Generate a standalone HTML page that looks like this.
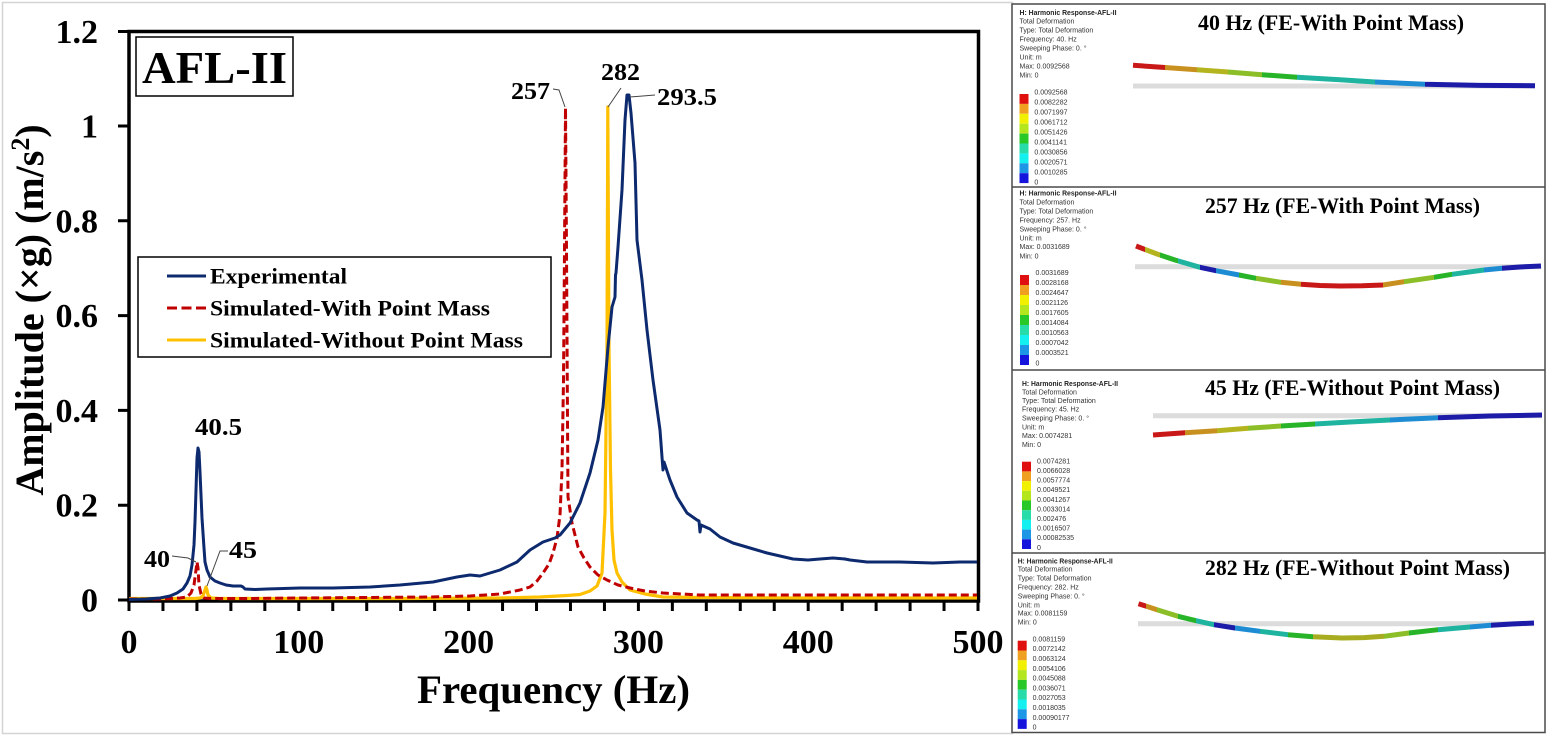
<!DOCTYPE html>
<html><head><meta charset="utf-8"><style>
html,body{margin:0;padding:0;background:#fff;}
svg{display:block;}
.s{font-family:"Liberation Serif","DejaVu Serif",serif;font-weight:bold;fill:#000;}
.i{font-family:"Liberation Sans","DejaVu Sans",sans-serif;font-size:7px;fill:#333;}
.ib{font-family:"Liberation Sans","DejaVu Sans",sans-serif;font-size:7px;font-weight:bold;fill:#222;}
</style></head><body>
<svg width="1547" height="738" viewBox="0 0 1547 738" xmlns="http://www.w3.org/2000/svg">
<defs>
<linearGradient id="g1" gradientUnits="userSpaceOnUse" x1="1000" y1="0" x2="2000" y2="0">
<stop offset=".133" stop-color="#c81818"/><stop offset=".165" stop-color="#c81818"/>
<stop offset=".165" stop-color="#c8901e"/><stop offset=".197" stop-color="#c8901e"/>
<stop offset=".197" stop-color="#b4b41e"/><stop offset=".228" stop-color="#b4b41e"/>
<stop offset=".228" stop-color="#8cbe28"/><stop offset=".262" stop-color="#8cbe28"/>
<stop offset=".262" stop-color="#28b428"/><stop offset=".297" stop-color="#28b428"/>
<stop offset=".297" stop-color="#1eb4a0"/><stop offset=".375" stop-color="#1eb4a0"/>
<stop offset=".375" stop-color="#1e8cd2"/><stop offset=".425" stop-color="#1e8cd2"/>
<stop offset=".425" stop-color="#1c1ca8"/><stop offset=".6" stop-color="#1c1ca8"/>
</linearGradient>
<linearGradient id="g2" gradientUnits="userSpaceOnUse" x1="1000" y1="0" x2="2000" y2="0">
<stop offset=".136" stop-color="#c81818"/><stop offset=".145" stop-color="#c81818"/>
<stop offset=".145" stop-color="#b4b41e"/><stop offset=".160" stop-color="#b4b41e"/>
<stop offset=".160" stop-color="#28b428"/><stop offset=".178" stop-color="#28b428"/>
<stop offset=".178" stop-color="#1eb4a0"/><stop offset=".200" stop-color="#1eb4a0"/>
<stop offset=".200" stop-color="#1c1ca8"/><stop offset=".216" stop-color="#1c1ca8"/>
<stop offset=".216" stop-color="#1e8cd2"/><stop offset=".239" stop-color="#1e8cd2"/>
<stop offset=".239" stop-color="#28b428"/><stop offset=".256" stop-color="#28b428"/>
<stop offset=".256" stop-color="#8cbe28"/><stop offset=".281" stop-color="#8cbe28"/>
<stop offset=".281" stop-color="#c8901e"/><stop offset=".301" stop-color="#c8901e"/>
<stop offset=".301" stop-color="#c81818"/><stop offset=".383" stop-color="#c81818"/>
<stop offset=".383" stop-color="#c8901e"/><stop offset=".404" stop-color="#c8901e"/>
<stop offset=".404" stop-color="#8cbe28"/><stop offset=".434" stop-color="#8cbe28"/>
<stop offset=".434" stop-color="#28b428"/><stop offset=".452" stop-color="#28b428"/>
<stop offset=".452" stop-color="#1eb4a0"/><stop offset=".484" stop-color="#1eb4a0"/>
<stop offset=".484" stop-color="#1e8cd2"/><stop offset=".502" stop-color="#1e8cd2"/>
<stop offset=".502" stop-color="#1c1ca8"/><stop offset=".6" stop-color="#1c1ca8"/>
</linearGradient>
<linearGradient id="g3" gradientUnits="userSpaceOnUse" x1="1000" y1="0" x2="2000" y2="0">
<stop offset=".153" stop-color="#c81818"/><stop offset=".185" stop-color="#c81818"/>
<stop offset=".185" stop-color="#c8901e"/><stop offset=".217" stop-color="#c8901e"/>
<stop offset=".217" stop-color="#b4b41e"/><stop offset=".248" stop-color="#b4b41e"/>
<stop offset=".248" stop-color="#8cbe28"/><stop offset=".281" stop-color="#8cbe28"/>
<stop offset=".281" stop-color="#28b428"/><stop offset=".315" stop-color="#28b428"/>
<stop offset=".315" stop-color="#1eb4a0"/><stop offset=".390" stop-color="#1eb4a0"/>
<stop offset=".390" stop-color="#1e8cd2"/><stop offset=".438" stop-color="#1e8cd2"/>
<stop offset=".438" stop-color="#1c1ca8"/><stop offset=".6" stop-color="#1c1ca8"/>
</linearGradient>
<linearGradient id="g4" gradientUnits="userSpaceOnUse" x1="1000" y1="0" x2="2000" y2="0">
<stop offset=".138" stop-color="#c81818"/><stop offset=".146" stop-color="#c81818"/>
<stop offset=".146" stop-color="#c8901e"/><stop offset=".157" stop-color="#c8901e"/>
<stop offset=".157" stop-color="#8cbe28"/><stop offset=".178" stop-color="#8cbe28"/>
<stop offset=".178" stop-color="#28b428"/><stop offset=".196" stop-color="#28b428"/>
<stop offset=".196" stop-color="#1eb4a0"/><stop offset=".214" stop-color="#1eb4a0"/>
<stop offset=".214" stop-color="#1c1ca8"/><stop offset=".235" stop-color="#1c1ca8"/>
<stop offset=".235" stop-color="#1e8cd2"/><stop offset=".260" stop-color="#1e8cd2"/>
<stop offset=".260" stop-color="#1eb4a0"/><stop offset=".288" stop-color="#1eb4a0"/>
<stop offset=".288" stop-color="#28b428"/><stop offset=".313" stop-color="#28b428"/>
<stop offset=".313" stop-color="#a8ac20"/><stop offset=".384" stop-color="#a8ac20"/>
<stop offset=".384" stop-color="#8cbe28"/><stop offset=".409" stop-color="#8cbe28"/>
<stop offset=".409" stop-color="#28b428"/><stop offset=".438" stop-color="#28b428"/>
<stop offset=".438" stop-color="#1eb4a0"/><stop offset=".470" stop-color="#1eb4a0"/>
<stop offset=".470" stop-color="#1e8cd2"/><stop offset=".491" stop-color="#1e8cd2"/>
<stop offset=".491" stop-color="#1c1ca8"/><stop offset=".6" stop-color="#1c1ca8"/>
</linearGradient>
</defs>

<!-- left frame -->
<rect x="2.5" y="2.5" width="1010" height="731" fill="none" stroke="#d4d4d4" stroke-width="1.5"/>

<!-- axes -->
<rect x="129" y="31.5" width="849.5" height="569.5" fill="none" stroke="#000" stroke-width="3.5"/>
<path d="M118,600H129M118,505.2H129M118,410.4H129M118,315.6H129M118,220.8H129M118,126H129M118,31.5H129" stroke="#000" stroke-width="3"/>
<path d="M129,601V611M162.96,601V611M196.92,601V611M230.88,601V611M264.84,601V611M298.8,601V611M332.76,601V611M366.72,601V611M400.68,601V611M434.64,601V611M468.6,601V611M502.56,601V611M536.52,601V611M570.48,601V611M604.44,601V611M638.4,601V611M672.36,601V611M706.32,601V611M740.28,601V611M774.24,601V611M808.2,601V611M842.16,601V611M876.12,601V611M910.08,601V611M944.04,601V611M978,601V611" stroke="#000" stroke-width="3"/>

<!-- y tick labels -->
<g class="s" font-size="34" text-anchor="end">
<text x="98" y="43">1.2</text>
<text x="98" y="137.5">1</text>
<text x="98" y="232.3">0.8</text>
<text x="98" y="327.1">0.6</text>
<text x="98" y="421.9">0.4</text>
<text x="98" y="516.7">0.2</text>
<text x="98" y="611.5">0</text>
</g>
<!-- x tick labels -->
<g class="s" font-size="34" text-anchor="middle">
<text x="129" y="653">0</text>
<text x="298.8" y="653">100</text>
<text x="468.6" y="653">200</text>
<text x="638.4" y="653">300</text>
<text x="808.2" y="653">400</text>
<text x="978" y="653">500</text>
</g>
<text class="s" x="553.5" y="703" font-size="40" text-anchor="middle" textLength="273" lengthAdjust="spacingAndGlyphs">Frequency (Hz)</text>
<text class="s" font-size="40" text-anchor="middle" transform="translate(43,310) rotate(-90)">Amplitude (×g) (m/s<tspan font-size="26" dy="-14">2</tspan><tspan dy="14">)</tspan></text>

<!-- AFL-II box -->
<rect x="136" y="37" width="157" height="59" fill="#fff" stroke="#000" stroke-width="1.5"/>
<text class="s" x="142" y="83" font-size="46" textLength="145" lengthAdjust="spacingAndGlyphs">AFL-II</text>

<!-- legend -->
<rect x="138" y="257" width="413" height="100" fill="#fff" stroke="#000" stroke-width="1.5"/>
<line x1="167" y1="276" x2="206" y2="276" stroke="#0d2a6e" stroke-width="3"/>
<line x1="167" y1="308" x2="206" y2="308" stroke="#c00000" stroke-width="3" stroke-dasharray="10,4.5"/>
<line x1="167" y1="340" x2="206" y2="340" stroke="#ffc000" stroke-width="3"/>
<g class="s" font-size="22">
<text x="210" y="283.5" textLength="137" lengthAdjust="spacingAndGlyphs">Experimental</text>
<text x="210" y="315.5" textLength="280" lengthAdjust="spacingAndGlyphs">Simulated-With Point Mass</text>
<text x="210" y="347.5" textLength="313" lengthAdjust="spacingAndGlyphs">Simulated-Without Point Mass</text>
</g>

<!-- series: yellow -->
<polyline fill="none" stroke="#ffc000" stroke-width="3.2" stroke-linejoin="round" points="129,598.5 195,598.5 200,598 203,596 205,590 206,587 207,590 208,595 211,598 220,598.5 400,598.5 500,598 540,597 567,595.5 580,594.5 590,591 597,586 602,573 605,513 607,347 607.8,107 609,347 610.5,470 612,530 614,560 617,573 622,582 630,590 645,594 663,597 700,597.5 800,598 977,598"/>
<!-- series: red dashed -->
<polyline fill="none" stroke="#c00000" stroke-width="3" stroke-dasharray="8,4" stroke-linejoin="round" points="129,599 160,599 180,598 187,597 191,593 194,585 196,570 197,562 198,568 199,585 201,594 204,598 210,598.5 250,598.5 300,598 367,597.5 430,597 470,596 500,594 520,590 530,587 537,581 543,573 549,564 553,553 557,538 560,515 562,470 563.5,380 564.5,250 565.5,108 566.5,250 567.5,420 568,497 572,523 578,547 584,558 590,567 598,575 607,580 618,585 630,588 645,591 663,593 700,595 977,595"/>
<!-- series: experimental -->
<polyline fill="none" stroke="#0d2a6e" stroke-width="3" stroke-linejoin="round" points="129,599.5 145,599 160,598 170,596 177,593 183,589 187,583 190,576 192,565 194,545 195,522 196,490 197,458 198,448 199,452 200,472 201,495 202,518 204,548 205,562 207,570 210,577 215,581 220,583 226,585 233,586 241,586 243,587 245,589 255,589.5 267,589 300,588 333,588 370,587 400,585 433,582 457,577 470,575 480,576 490,573 500,570 517,562 530,550 543,542 555,538 560,535 570,523 580,503 590,473 598,440 603,407 608,347 612,307 615,297 615.5,275 616,273 618,247 622,190 625,120 627,95 629,95 631,113 635,163 637,240 642,280 647,330 653,380 660,430 662,457 663,470 664,462 670,480 677,497 687,513 697,520 699,521 700,532 701,525 710,529 720,537 733,543 750,548 767,553 780,556 793,559 808,560 820,559 833,558 845,559 850,560 867,562 900,562 933,563 960,562 977,562"/>

<!-- annotations -->
<g fill="none" stroke="#444" stroke-width="1">
<polyline points="172,556 188,558 196,562"/>
<polyline points="228,551 220,551 207,586"/>
<polyline points="553,89 559,90 565,107"/>
<line x1="621" y1="88" x2="608" y2="107"/>
<line x1="655" y1="95" x2="630" y2="97"/>
</g>
<g class="s" font-size="24">
<text x="195" y="435" textLength="47" lengthAdjust="spacingAndGlyphs">40.5</text>
<text x="144" y="567" textLength="26" lengthAdjust="spacingAndGlyphs">40</text>
<text x="229" y="558" textLength="28" lengthAdjust="spacingAndGlyphs">45</text>
<text x="511" y="99" textLength="39" lengthAdjust="spacingAndGlyphs">257</text>
<text x="601" y="80" textLength="39" lengthAdjust="spacingAndGlyphs">282</text>
<text x="657" y="105" textLength="60" lengthAdjust="spacingAndGlyphs">293.5</text>
</g>

<!-- ============ RIGHT PANELS ============ -->
<rect x="1012" y="4" width="533" height="728.5" fill="#fff" stroke="#4a4a4a" stroke-width="1.5"/>
<path d="M1012,187H1545M1012,370H1545M1012,553H1545" stroke="#4a4a4a" stroke-width="1.5"/>

<!-- Panel 1 -->
<g>
<text class="ib" x="1019.5" y="15" textLength="97" lengthAdjust="spacingAndGlyphs">H: Harmonic Response-AFL-II</text>
<text class="i" x="1019.5" y="23.7">Total Deformation</text>
<text class="i" x="1019.5" y="32.7">Type: Total Deformation</text>
<text class="i" x="1019.5" y="41.7">Frequency: 40. Hz</text>
<text class="i" x="1019.5" y="50.7">Sweeping Phase: 0. °</text>
<text class="i" x="1019.5" y="59.4">Unit: m</text>
<text class="i" x="1019.5" y="68.4">Max: 0.0092568</text>
<text class="i" x="1019.5" y="77.7">Min: 0</text>
<rect x="1019.5" y="94" width="9" height="9.9" fill="#e01010"/>
<rect x="1019.5" y="103.9" width="9" height="9.9" fill="#f0a020"/>
<rect x="1019.5" y="113.8" width="9" height="9.9" fill="#f0f000"/>
<rect x="1019.5" y="123.7" width="9" height="9.9" fill="#b4e61e"/>
<rect x="1019.5" y="133.6" width="9" height="9.9" fill="#28c828"/>
<rect x="1019.5" y="143.5" width="9" height="9.9" fill="#28dcaa"/>
<rect x="1019.5" y="153.4" width="9" height="9.9" fill="#14f0f0"/>
<rect x="1019.5" y="163.3" width="9" height="9.9" fill="#1e96e6"/>
<rect x="1019.5" y="173.2" width="9" height="9.9" fill="#1414dc"/>
<text class="i" x="1034.4" y="94.5">0.0092568</text>
<text class="i" x="1034.4" y="104.5">0.0082282</text>
<text class="i" x="1034.4" y="114.5">0.0071997</text>
<text class="i" x="1034.4" y="124.5">0.0061712</text>
<text class="i" x="1034.4" y="134.5">0.0051426</text>
<text class="i" x="1034.4" y="144.5">0.0041141</text>
<text class="i" x="1034.4" y="154.5">0.0030856</text>
<text class="i" x="1034.4" y="164.5">0.0020571</text>
<text class="i" x="1034.4" y="174.5">0.0010285</text>
<text class="i" x="1034.4" y="184.5">0</text>
<text class="s" x="1198" y="30" font-size="22" textLength="266" lengthAdjust="spacingAndGlyphs">40 Hz (FE-With Point Mass)</text>
<line x1="1133" y1="86" x2="1535" y2="86" stroke="#dcdcdc" stroke-width="5"/>
<polyline fill="none" stroke="url(#g1)" stroke-width="5" points="1133,65.3 1165,67.5 1197,69.7 1228,72 1262,74.7 1297,77.3 1340,79.8 1375,82 1425,84.3 1480,85.4 1535,85.7"/>
</g>

<!-- Panel 2 -->
<g>
<text class="ib" x="1019.5" y="195.4" textLength="97" lengthAdjust="spacingAndGlyphs">H: Harmonic Response-AFL-II</text>
<text class="i" x="1019.5" y="204.4">Total Deformation</text>
<text class="i" x="1019.5" y="213.4">Type: Total Deformation</text>
<text class="i" x="1019.5" y="222.4">Frequency: 257. Hz</text>
<text class="i" x="1019.5" y="231.4">Sweeping Phase: 0. °</text>
<text class="i" x="1019.5" y="240.4">Unit: m</text>
<text class="i" x="1019.5" y="249">Max: 0.0031689</text>
<text class="i" x="1019.5" y="258.4">Min: 0</text>
<rect x="1020" y="275" width="9" height="10" fill="#e01010"/>
<rect x="1020" y="285" width="9" height="10" fill="#f0a020"/>
<rect x="1020" y="295" width="9" height="10" fill="#f0f000"/>
<rect x="1020" y="305" width="9" height="10" fill="#b4e61e"/>
<rect x="1020" y="315" width="9" height="10" fill="#28c828"/>
<rect x="1020" y="325" width="9" height="10" fill="#28dcaa"/>
<rect x="1020" y="335" width="9" height="10" fill="#14f0f0"/>
<rect x="1020" y="345" width="9" height="10" fill="#1e96e6"/>
<rect x="1020" y="355" width="9" height="10" fill="#1414dc"/>
<text class="i" x="1035.5" y="275">0.0031689</text>
<text class="i" x="1035.5" y="285">0.0028168</text>
<text class="i" x="1035.5" y="295">0.0024647</text>
<text class="i" x="1035.5" y="305">0.0021126</text>
<text class="i" x="1035.5" y="315">0.0017605</text>
<text class="i" x="1035.5" y="325">0.0014084</text>
<text class="i" x="1035.5" y="335">0.0010563</text>
<text class="i" x="1035.5" y="345">0.0007042</text>
<text class="i" x="1035.5" y="355">0.0003521</text>
<text class="i" x="1035.5" y="365.5">0</text>
<text class="s" x="1205" y="213" font-size="22" textLength="275" lengthAdjust="spacingAndGlyphs">257 Hz (FE-With Point Mass)</text>
<line x1="1135" y1="266.7" x2="1541" y2="266.7" stroke="#dcdcdc" stroke-width="5"/>
<polyline fill="none" stroke="url(#g2)" stroke-width="5" stroke-linejoin="round" points="1136,246 1157,254 1175,260 1200,267.3 1216,270.7 1239,275 1256,278.3 1281,282.3 1301,284.3 1320,285.5 1340,286 1362,285.8 1383,285 1404,281.7 1434,277.3 1452,274.3 1484,270 1502,268.3 1520,267 1541,266"/>
</g>

<!-- Panel 3 -->
<g>
<text class="ib" x="1022" y="386" textLength="96" lengthAdjust="spacingAndGlyphs">H: Harmonic Response-AFL-II</text>
<text class="i" x="1022" y="394.4">Total Deformation</text>
<text class="i" x="1022" y="403">Type: Total Deformation</text>
<text class="i" x="1022" y="411.7">Frequency: 45. Hz</text>
<text class="i" x="1022" y="420.4">Sweeping Phase: 0. °</text>
<text class="i" x="1022" y="429.4">Unit: m</text>
<text class="i" x="1022" y="438">Max: 0.0074281</text>
<text class="i" x="1022" y="447">Min: 0</text>
<rect x="1022" y="461.7" width="9" height="9.7" fill="#e01010"/>
<rect x="1022" y="471.4" width="9" height="9.7" fill="#f0a020"/>
<rect x="1022" y="481.1" width="9" height="9.7" fill="#f0f000"/>
<rect x="1022" y="490.8" width="9" height="9.7" fill="#b4e61e"/>
<rect x="1022" y="500.5" width="9" height="9.7" fill="#28c828"/>
<rect x="1022" y="510.2" width="9" height="9.7" fill="#28dcaa"/>
<rect x="1022" y="519.9" width="9" height="9.7" fill="#14f0f0"/>
<rect x="1022" y="529.6" width="9" height="9.7" fill="#1e96e6"/>
<rect x="1022" y="539.3" width="9" height="9.7" fill="#1414dc"/>
<text class="i" x="1037" y="463.4">0.0074281</text>
<text class="i" x="1037" y="473">0.0066028</text>
<text class="i" x="1037" y="482.6">0.0057774</text>
<text class="i" x="1037" y="492.2">0.0049521</text>
<text class="i" x="1037" y="501.8">0.0041267</text>
<text class="i" x="1037" y="511.4">0.0033014</text>
<text class="i" x="1037" y="521">0.002476</text>
<text class="i" x="1037" y="530.6">0.0016507</text>
<text class="i" x="1037" y="540.2">0.00082535</text>
<text class="i" x="1037" y="549.8">0</text>
<text class="s" x="1205" y="395" font-size="22" textLength="295" lengthAdjust="spacingAndGlyphs">45 Hz (FE-Without Point Mass)</text>
<line x1="1153" y1="415.7" x2="1542" y2="415.7" stroke="#dcdcdc" stroke-width="5"/>
<polyline fill="none" stroke="url(#g3)" stroke-width="5" points="1153,435 1185,432.7 1217,430.7 1248,428.3 1281,426 1315,424 1350,422 1390,420 1438,417.7 1490,416 1542,415"/>
</g>

<!-- Panel 4 -->
<g>
<text class="ib" x="1017.7" y="563.4" textLength="95" lengthAdjust="spacingAndGlyphs">H: Harmonic Response-AFL-II</text>
<text class="i" x="1017.7" y="571.7">Total Deformation</text>
<text class="i" x="1017.7" y="580.7">Type: Total Deformation</text>
<text class="i" x="1017.7" y="589.7">Frequency: 282. Hz</text>
<text class="i" x="1017.7" y="598.4">Sweeping Phase: 0. °</text>
<text class="i" x="1017.7" y="607.4">Unit: m</text>
<text class="i" x="1017.7" y="615.7">Max: 0.0081159</text>
<text class="i" x="1017.7" y="624.7">Min: 0</text>
<rect x="1017.7" y="640.7" width="9" height="9.8" fill="#e01010"/>
<rect x="1017.7" y="650.5" width="9" height="9.8" fill="#f0a020"/>
<rect x="1017.7" y="660.3" width="9" height="9.8" fill="#f0f000"/>
<rect x="1017.7" y="670.1" width="9" height="9.8" fill="#b4e61e"/>
<rect x="1017.7" y="679.9" width="9" height="9.8" fill="#28c828"/>
<rect x="1017.7" y="689.7" width="9" height="9.8" fill="#28dcaa"/>
<rect x="1017.7" y="699.5" width="9" height="9.8" fill="#14f0f0"/>
<rect x="1017.7" y="709.3" width="9" height="9.8" fill="#1e96e6"/>
<rect x="1017.7" y="719.1" width="9" height="9.8" fill="#1414dc"/>
<text class="i" x="1032.6" y="641.4">0.0081159</text>
<text class="i" x="1032.6" y="651.2">0.0072142</text>
<text class="i" x="1032.6" y="661">0.0063124</text>
<text class="i" x="1032.6" y="670.8">0.0054106</text>
<text class="i" x="1032.6" y="680.6">0.0045088</text>
<text class="i" x="1032.6" y="690.4">0.0036071</text>
<text class="i" x="1032.6" y="700.2">0.0027053</text>
<text class="i" x="1032.6" y="710">0.0018035</text>
<text class="i" x="1032.6" y="719.8">0.00090177</text>
<text class="i" x="1032.6" y="729.5">0</text>
<text class="s" x="1205" y="575" font-size="22" textLength="305" lengthAdjust="spacingAndGlyphs">282 Hz (FE-Without Point Mass)</text>
<line x1="1138" y1="623.7" x2="1534" y2="623.7" stroke="#dcdcdc" stroke-width="5"/>
<polyline fill="none" stroke="url(#g4)" stroke-width="5" stroke-linejoin="round" points="1138.5,603.7 1157,609.7 1178,616.3 1196,620.7 1214,624.7 1235,628 1260,631.3 1288,634.7 1313,636.7 1342,638 1364,637.6 1384,636.3 1409,633 1438,629.7 1470,627 1491,625.3 1512,624 1534,623"/>
</g>
</svg>
</body></html>
